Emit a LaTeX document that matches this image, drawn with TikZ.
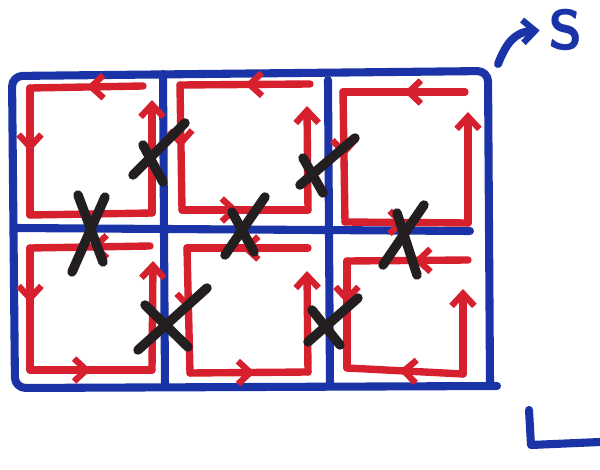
\documentclass[tikz,border=0pt]{standalone}
\usepackage{tikz}
\usetikzlibrary{arrows.meta,decorations.markings}
\definecolor{mblue}{HTML}{1A34A8}
\definecolor{mred}{HTML}{D6202E}
\definecolor{mblack}{HTML}{231F20}

\begin{document}
\begin{tikzpicture}[
    x=0.02cm, y=-0.02cm,
    gridline/.style={draw=mblue, line width=4.6pt, line cap=round, line join=round},
    loopline/.style={draw=mred, line width=4.2pt, line cap=round, line join=round},
    tiparr/.style={-{Straight Barb[length=7pt, width=13pt, line width=3.6pt]}},
    midarr/.style={postaction={decorate}, decoration={markings,
        mark=at position #1 with {\arrow{Straight Barb[length=7pt, width=13pt, line width=3.6pt]}}}},
    midarr/.default=0.5,
    backarr/.style={postaction={decorate}, decoration={markings,
        mark=at position #1 with {\arrowreversed{Straight Barb[length=7pt, width=13pt, line width=3.6pt]}}}},
    cross/.style={draw=mblack, line width=5.4pt, line cap=round}
]
    \useasboundingbox (0,0) rectangle (600,470);

    % blue grid
    \draw[gridline, rounded corners=6pt] (490,382) -- (488,71) -- (12,76) -- (15,388) -- (497,386);
    \draw[gridline] (163,74) -- (165,387);
    \draw[gridline] (328,80) -- (330,386);
    \draw[gridline] (14,228) -- (470,231);

    % red loops, top row
    \draw[loopline, midarr=0.5] (143,86) -- (30,88);
    \draw[loopline, midarr=0.5] (30,88) -- (30,215);
    \draw[loopline] (30,215) -- (152,213);
    \draw[loopline, tiparr] (152,213) -- (152,100);

    \draw[loopline, midarr=0.5] (310,84) -- (180,85);
    \draw[loopline, midarr=0.5] (180,85) -- (182,210);
    \draw[loopline, midarr=0.45] (182,210) -- (308,210);
    \draw[loopline, tiparr] (308,210) -- (307,106);

    \draw[loopline, midarr=0.5] (465,92) -- (343,92);
    \draw[loopline, midarr=0.5] (343,92) -- (345,222);
    \draw[loopline, midarr=0.5] (345,222) -- (468,223);
    \draw[loopline, tiparr] (468,223) -- (468,112);

    % red loops, bottom row
    \draw[loopline, midarr=0.5] (150,246) -- (30,248);
    \draw[loopline, midarr=0.45] (30,248) -- (30,370);
    \draw[loopline, midarr=0.5] (30,370) -- (152,370);
    \draw[loopline, tiparr] (152,370) -- (153,261);

    \draw[loopline, midarr=0.55] (308,248) -- (187,248);
    \draw[loopline, midarr=0.5] (187,248) -- (190,373);
    \draw[loopline, midarr=0.55] (190,373) -- (308,372);
    \draw[loopline, tiparr] (308,372) -- (307,271);

    \draw[loopline, midarr=0.45] (468,260) -- (347,261);
    \draw[loopline, midarr=0.4] (347,261) -- (347,368);
    \draw[loopline, backarr=0.45] (347,368) -- (463,374);
    \draw[loopline, tiparr] (463,374) -- (463,289);

    % crossed-out shared edges
    \draw[cross] (133,175) -- (185,123);
    \draw[cross] (143,145) -- (163,182);
    \draw[cross] (78,195) -- (103,262);
    \draw[cross] (105,197) -- (72,272);
    \draw[cross] (265,197) -- (225,255);
    \draw[cross] (232,212) -- (254,252);
    \draw[cross] (355,138) -- (300,185);
    \draw[cross] (303,158) -- (323,193);
    \draw[cross] (397,213) -- (417,275);
    \draw[cross] (424,205) -- (383,265);
    \draw[cross] (207,288) -- (138,350);
    \draw[cross] (145,305) -- (188,347);
    \draw[cross] (358,298) -- (308,342);
    \draw[cross] (312,310) -- (340,345);

    % orientation label
    \node[text=mblue, inner sep=1pt, font=\fontsize{32}{32}\selectfont\sffamily\bfseries] (S) at (566,30) {S};
    \coordinate (sarrstart) at (498,64);
    \draw[gridline, tiparr, shorten >=4pt] (sarrstart) .. controls (506,44) and (514,32) .. (S.west);

    % corner mark
    \coordinate (lcorner) at (531,445);
    \draw[gridline] (529,410) -- (lcorner) -- (600,442);
\end{tikzpicture}
\end{document}
